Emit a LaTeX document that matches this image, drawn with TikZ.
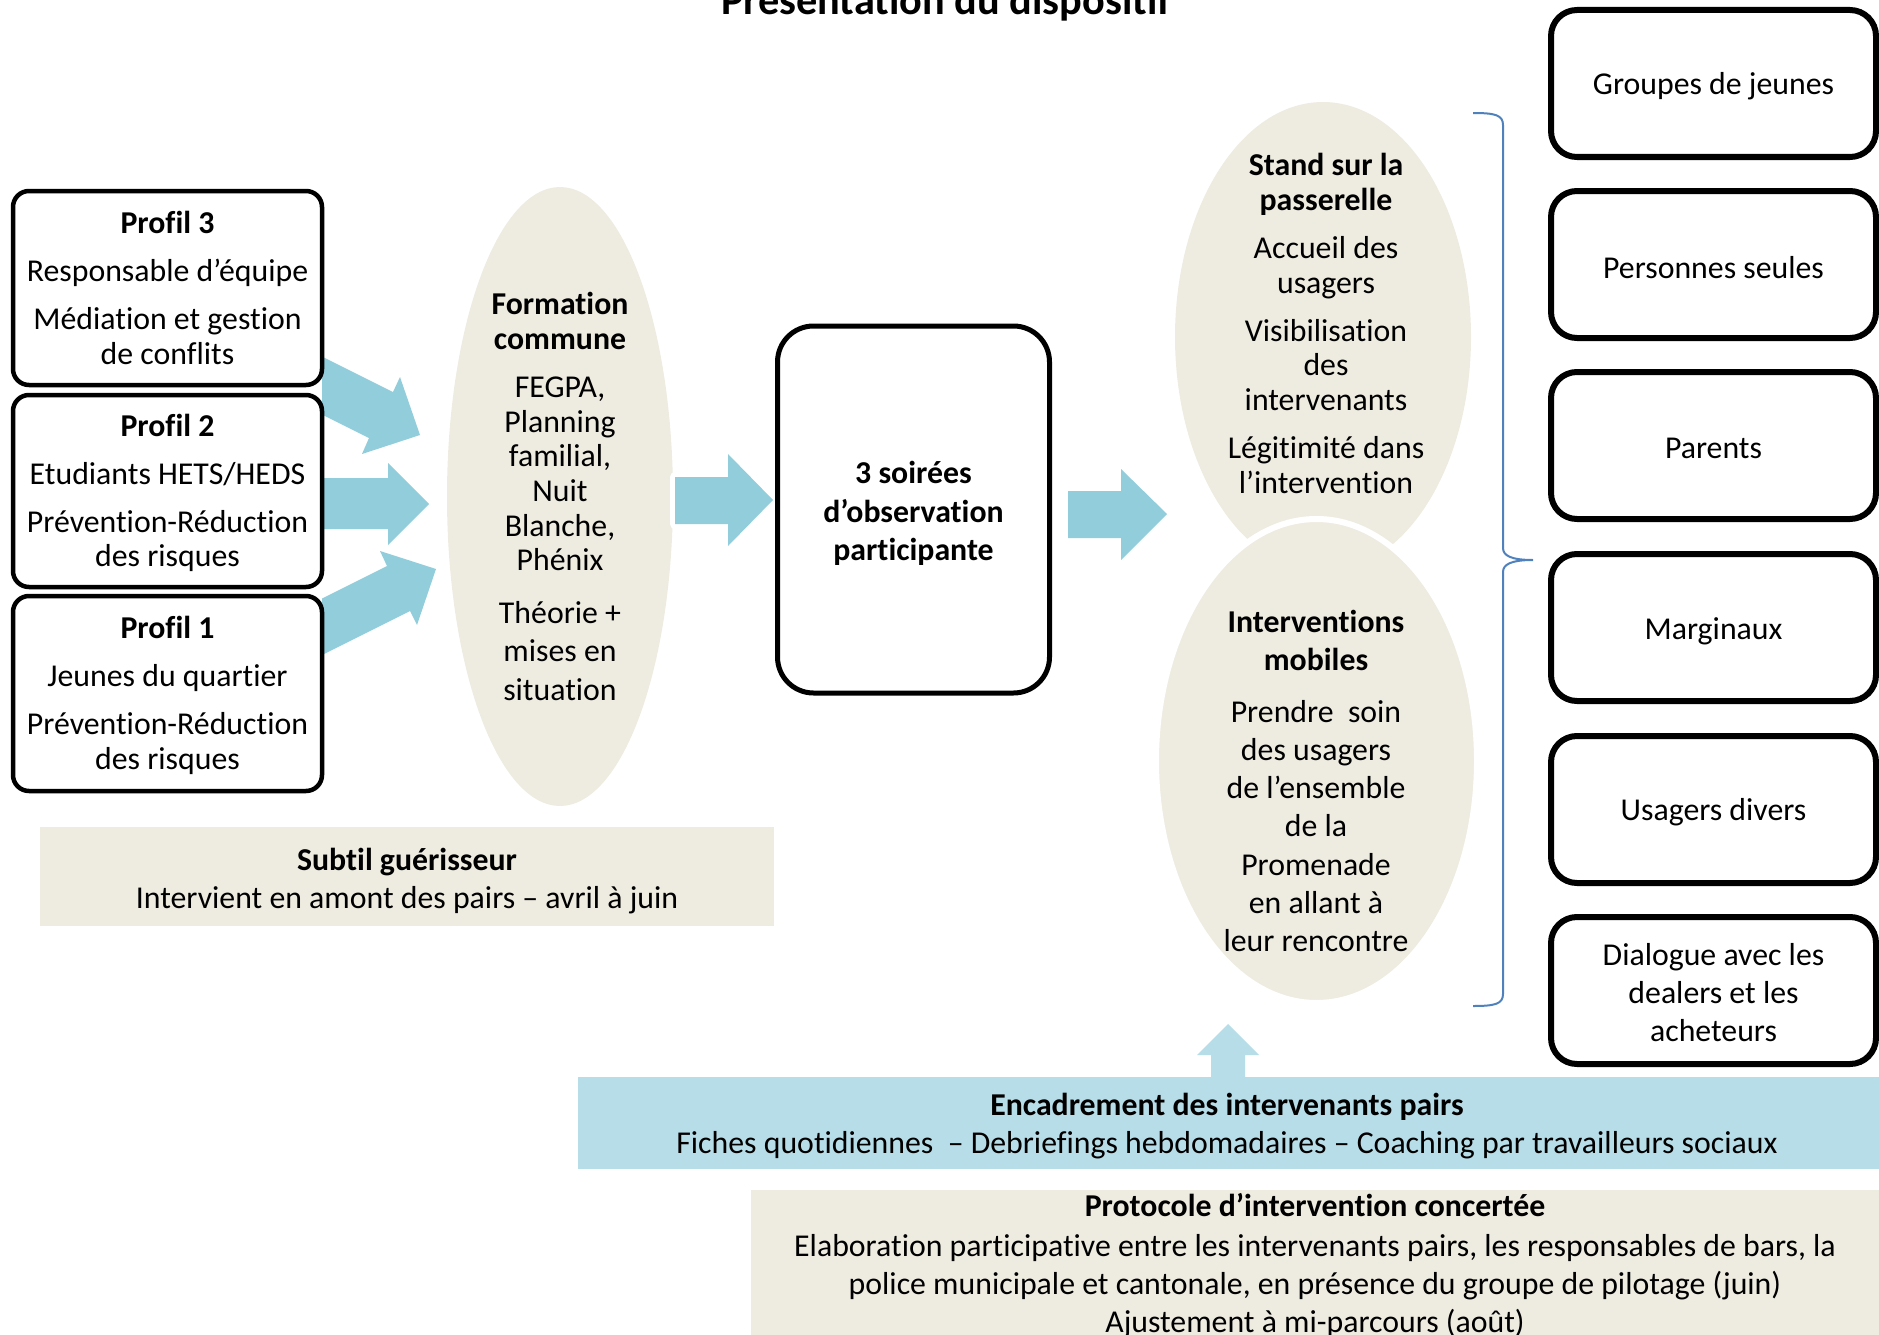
\documentclass[tikz,border=0pt]{standalone}
\usepackage{fontspec}
\setmainfont[Ligatures=NoCommon]{Carlito}
\usetikzlibrary{shapes.geometric}
\definecolor{arrowblue}{HTML}{92CDDC}
\definecolor{bandblue}{HTML}{B7DDE8}
\definecolor{beige}{HTML}{EEECE1}
\definecolor{bracecol}{HTML}{4F81BD}
\begin{document}
\begin{tikzpicture}[x=1pt,y=-1pt,
  txt/.style={font=\fontsize{31.8}{34.7}\selectfont, align=center, inner sep=0pt},
  txtw/.style={font=\fontsize{31.8}{38.3}\selectfont, align=center, inner sep=0pt},
  profbox/.style={draw=black, line width=4.5pt, rounded corners=16pt, fill=white,
    minimum width=309pt, minimum height=194pt, inner sep=0pt},
  tgtbox/.style={draw=black, line width=6pt, rounded corners=26pt, fill=white,
    minimum width=325pt, minimum height=147pt, inner sep=0pt},
  blockarrow/.style={fill=arrowblue, preaction={draw=white, line width=10pt, line join=round}},
  uparrow/.style={fill=bandblue, preaction={draw=white, line width=6pt, line join=round}},
  oval/.style={ellipse, fill=beige, inner sep=0pt},
  panel/.style={fill=beige, inner sep=0pt},
]
\useasboundingbox (0,0) rectangle (1879,1335);

% title
\node[font=\fontsize{42.3}{50}\selectfont\bfseries, anchor=base, inner sep=0pt] (title) at (946,15) {Présentation du dispositif};

% arrows from profiles to formation
\fill[blockarrow] (322,356.5) -- (393,392) -- (400,377) -- (420,435) -- (362,454) -- (369,438) -- (322,414.5) -- cycle;
\fill[blockarrow] (322,478) -- (388,478) -- (388,463) -- (429,504) -- (388,545) -- (388,529) -- (322,529) -- cycle;
\fill[blockarrow] (322,598.5) -- (387,566) -- (380,551) -- (436,569) -- (417,625) -- (410,611) -- (322,655) -- cycle;

% profile boxes
\node[profbox] (p3) at (167.5,288) {};
\node[profbox, minimum height=192pt] (p2) at (167.5,491) {};
\node[profbox, minimum height=195pt] (p1) at (167.5,693.5) {};
\node[txt] (p3txt) at (p3.center) {\textbf{Profil 3}\\[13.2pt]Responsable d’équipe\\[13.2pt]Médiation et gestion\\de conflits};
\node[txt, yshift=-2pt] (p2txt) at (p2.center) {\textbf{Profil 2}\\[13.2pt]Etudiants HETS/HEDS\\[13.2pt]Prévention-Réduction\\des risques};
\node[txt, yshift=-2pt] (p1txt) at (p1.center) {\textbf{Profil 1}\\[13.2pt]Jeunes du quartier\\[13.2pt]Prévention-Réduction\\des risques};

% formation ellipse
\node[oval, minimum width=226pt, minimum height=619pt] (form) at (560,496.5) {};
\node[txt] (formtxt) at (form.center) {\textbf{Formation}\\\textbf{commune}\\[13.2pt]FEGPA,\\Planning\\familial,\\Nuit\\Blanche,\\Phénix\\[18pt]Théorie +\\[3.6pt]mises en\\[3.6pt]situation};

% arrow to soirées
\fill[blockarrow] (675,477) -- (728,477) -- (728,454) -- (773,500) -- (728,546) -- (728,524) -- (675,524) -- cycle;

% soirées box
\node[draw=black, line width=5pt, rounded corners=36pt, fill=white, minimum width=272pt, minimum height=367pt, inner sep=0pt] (soir) at (913.5,509.5) {};
\node[txtw, font=\fontsize{31.8}{38.3}\selectfont\bfseries, yshift=-4pt] (soirtxt) at (soir.center) {3 soirées\\d’observation\\participante};

% arrow to stand
\fill[blockarrow] (1068,491) -- (1121,491) -- (1121,469) -- (1167,514) -- (1121,560) -- (1121,538) -- (1068,538) -- cycle;

% stand & mobile ellipses
\node[oval, minimum width=296pt, minimum height=470pt] (stand) at (1323,337) {};
\node[oval, draw=white, line width=6pt, minimum width=321pt, minimum height=484pt] (mob) at (1316.5,761) {};
\node[txt] (standtxt) at (1326,323.5) {\textbf{Stand sur la}\\\textbf{passerelle}\\[13.2pt]Accueil des\\usagers\\[13.2pt]Visibilisation\\des\\intervenants\\[13.2pt]Légitimité dans\\l’intervention};
\node[txtw] (mobtxt) at (1316,781) {\textbf{Interventions}\\\textbf{mobiles}\\[13.2pt]Prendre\ \ soin\\des usagers\\de l’ensemble\\de la\\Promenade\\en allant à\\leur rencontre};

% brace
\draw[bracecol, line width=2pt] (1473,113) .. controls (1495,113) and (1503,115) .. (1503,125)
  -- (1503,548) .. controls (1503,556) and (1512,560) .. (1533,560)
  .. controls (1512,560) and (1503,564) .. (1503,572)
  -- (1503,994) .. controls (1503,1004) and (1495,1006) .. (1473,1006);

% target boxes
\node[tgtbox] (t1) at (1713.5,83.5) {};
\node[tgtbox] (t2) at (1713.5,264.5) {};
\node[tgtbox] (t3) at (1713.5,445.5) {};
\node[tgtbox] (t4) at (1713.5,627.5) {};
\node[tgtbox] (t5) at (1713.5,809.5) {};
\node[tgtbox] (t6) at (1713.5,990.5) {};
\node[txtw, yshift=-3pt] (t1txt) at (t1.center) {Groupes de jeunes};
\node[txtw, yshift=-3pt] (t2txt) at (t2.center) {Personnes seules};
\node[txtw, yshift=-3pt] (t3txt) at (t3.center) {Parents};
\node[txtw, yshift=-4pt] (t4txt) at (t4.center) {Marginaux};
\node[txtw, yshift=-3pt] (t5txt) at (t5.center) {Usagers divers};
\node[txtw, yshift=-2pt] (t6txt) at (t6.center) {Dialogue avec les\\dealers et les\\acheteurs};

% subtil guérisseur
\node[panel, minimum width=734pt, minimum height=99pt] (subtil) at (407,876.5) {};
\node[txtw] (subtiltxt) at (407,881) {\textbf{Subtil guérisseur}\\[-1pt]Intervient en amont des pairs – avril à juin};

% up arrow and band
\fill[uparrow] (1211,1082) -- (1211,1055) -- (1197,1055) -- (1228,1024) -- (1259,1055) -- (1245,1055) -- (1245,1082) -- cycle;
\node[fill=bandblue, inner sep=0pt, minimum width=1301pt, minimum height=92pt] (band) at (1228.5,1122.5) {};
\node[txtw] (bandtxt) at (1227,1126) {\textbf{Encadrement des intervenants pairs}\\Fiches quotidiennes\ \ – Debriefings hebdomadaires – Coaching par travailleurs sociaux};

% protocole
\node[panel, anchor=north west, minimum width=1128pt, minimum height=160pt] (proto) at (751,1190) {};
\node[txtw] (prototxt) at (1315,1266) {\textbf{Protocole d’intervention concertée}\\[1pt]Elaboration participative entre les intervenants pairs, les responsables de bars, la\\police municipale et cantonale, en présence du groupe de pilotage (juin)\\Ajustement à mi-parcours (août)};
\end{tikzpicture}
\end{document}
